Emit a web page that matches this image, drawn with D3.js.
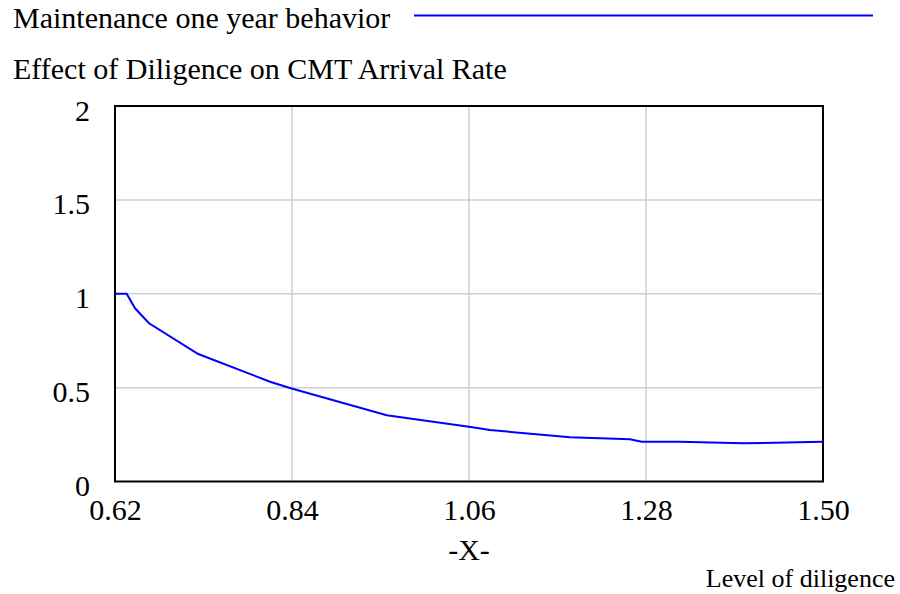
<!DOCTYPE html>
<html>
<head>
<meta charset="utf-8">
<script src="https://cdn.jsdelivr.net/npm/d3@7"></script>
<style>
  body { margin: 0; background: #fff; }
</style>
</head>
<body>
<div id="chart"></div>
<script>
// data
const xVals = [0.62, 0.6345, 0.6449, 0.6623, 0.7235, 0.8127, 0.8384, 0.9577, 1.06, 1.0861, 1.1855, 1.26, 1.2746, 1.3222, 1.4009, 1.50];
const yVals = [1.0, 1.0, 0.9225, 0.8426, 0.6791, 0.5316, 0.4964, 0.3526, 0.2919, 0.2743, 0.2354, 0.2248, 0.212, 0.212, 0.2035, 0.212];
const xTicks = [0.62, 0.84, 1.06, 1.28, 1.50];
const yTicks = [0, 0.5, 1, 1.5, 2];
const seriesName = "Maintenance one year behavior";
const chartTitle = "Effect of Diligence on CMT Arrival Rate";

const width = 900, height = 594;
const plotL = 115, plotR = 823, plotT = 106, plotB = 481.5;
const serif = "'Liberation Serif', 'Times New Roman', serif";

const svg = d3.select("#chart").append("svg")
    .attr("width", width)
    .attr("height", height)
    .style("font-family", serif);

const x = d3.scaleLinear().domain([0.62, 1.50]).range([plotL, plotR]);
const y = d3.scaleLinear().domain([0, 2]).range([plotB, plotT]);

// gridlines
svg.append("g")
    .selectAll("line")
    .data(xTicks.slice(1, -1))
    .join("line")
    .attr("x1", d => x(d)).attr("x2", d => x(d))
    .attr("y1", plotT).attr("y2", plotB)
    .attr("stroke", "#cfcfcf").attr("stroke-width", 1.5);

svg.append("g")
    .selectAll("line")
    .data(yTicks.slice(1, -1))
    .join("line")
    .attr("x1", plotL).attr("x2", plotR)
    .attr("y1", d => y(d)).attr("y2", d => y(d))
    .attr("stroke", "#cfcfcf").attr("stroke-width", 1.5);

// axes (labels only)
const xAxis = svg.append("g")
    .attr("transform", `translate(0, ${plotB})`)
    .call(d3.axisBottom(x).tickValues(xTicks).tickFormat(d3.format(".2f")).tickSize(0).tickPadding(0));
xAxis.select(".domain").remove();
xAxis.selectAll("text")
    .attr("dy", null)
    .attr("y", 38)
    .attr("fill", "#000")
    .style("font-size", "30px")
    .style("font-family", serif);

const yAxis = svg.append("g")
    .attr("transform", `translate(90, 0)`)
    .call(d3.axisLeft(y).tickValues(yTicks).tickFormat(d3.format("")).tickSize(0).tickPadding(0));
yAxis.select(".domain").remove();
yAxis.selectAll("text")
    .attr("dy", null)
    .attr("y", 14)
    .attr("x", 0)
    .attr("fill", "#000")
    .style("font-size", "30px")
    .style("font-family", serif);

// frame
svg.append("rect")
    .attr("x", plotL).attr("y", plotT)
    .attr("width", plotR - plotL).attr("height", plotB - plotT)
    .attr("fill", "none")
    .attr("stroke", "#000")
    .attr("stroke-width", 2);

// series line
const pts = xVals.map((v, i) => [v, yVals[i]]);
svg.append("path")
    .datum(pts)
    .attr("fill", "none")
    .attr("stroke", "#0000ff")
    .attr("stroke-width", 2)
    .attr("d", d3.line().x(d => x(d[0])).y(d => y(d[1])));

// legend
svg.append("text")
    .attr("x", 13).attr("y", 28)
    .style("font-size", "30px")
    .style("font-family", serif)
    .text(seriesName);
svg.append("line")
    .attr("x1", 414).attr("x2", 873)
    .attr("y1", 15.5).attr("y2", 15.5)
    .attr("stroke", "#0000ff").attr("stroke-width", 2);

// title
svg.append("text")
    .attr("x", 13).attr("y", 79)
    .style("font-size", "30px")
    .style("font-family", serif)
    .text(chartTitle);

// x label
svg.append("text")
    .attr("x", (plotL + plotR) / 2).attr("y", 560)
    .attr("text-anchor", "middle")
    .style("font-size", "30px")
    .style("font-family", serif)
    .text("-X-");

svg.append("text")
    .attr("x", 895).attr("y", 587)
    .attr("text-anchor", "end")
    .style("font-size", "26px")
    .style("font-family", serif)
    .text("Level of diligence");
</script>
</body>
</html>
